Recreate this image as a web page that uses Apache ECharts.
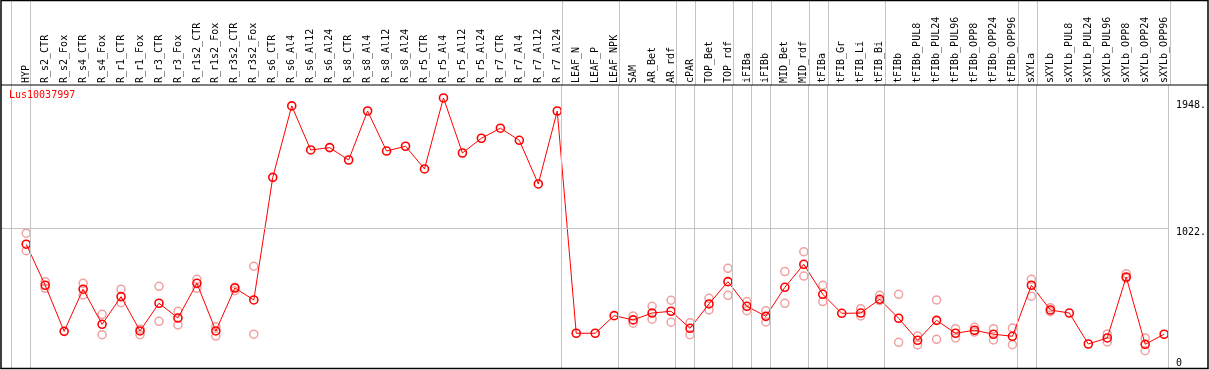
<!DOCTYPE html>
<html><head><meta charset="utf-8">
<script src="https://cdn.jsdelivr.net/npm/echarts@6/dist/echarts.min.js"></script>
<style>html,body{margin:0;padding:0;background:#fff}#c{width:1209px;height:370px}</style>
</head><body><div id="c"></div>
<script>
const categories = ["HYP","R_s2_CTR","R_s2_Fox","R_s4_CTR","R_s4_Fox","R_r1_CTR","R_r1_Fox","R_r3_CTR","R_r3_Fox","R_r1s2_CTR","R_r1s2_Fox","R_r3s2_CTR","R_r3s2_Fox","R_s6_CTR","R_s6_Al4","R_s6_Al12","R_s6_Al24","R_s8_CTR","R_s8_Al4","R_s8_Al12","R_s8_Al24","R_r5_CTR","R_r5_Al4","R_r5_Al12","R_r5_Al24","R_r7_CTR","R_r7_Al4","R_r7_Al12","R_r7_Al24","LEAF_N","LEAF_P","LEAF_NPK","SAM","AR_Bet","AR_rdf","cPAR","TOP_Bet","TOP_rdf","iFIBa","iFIBb","MID_Bet","MID_rdf","tFIBa","tFIB_Gr","tFIB_Li","tFIB_Bi","tFIBb","tFIBb_PUL8","tFIBb_PUL24","tFIBb_PUL96","tFIBb_OPP8","tFIBb_OPP24","tFIBb_OPP96","sXYLa","sXYLb","sXYLb_PUL8","sXYLb_PUL24","sXYLb_PUL96","sXYLb_OPP8","sXYLb_OPP24","sXYLb_OPP96"];
const means = [903,605,270,576,321,522,273,474,367,619,273,585,498,
1389,1908,1588,1605,1515,1871,1580,1615,1450,1966,1566,1673,1746,1658,1341,1871,
256,256,384,353,403,416,292,469,631,452,379,590,757,539,401,403,503,365,
205,350,256,278,249,234,605,425,403,178,222,665,176,249];
const rep1 = [983,631,null,619,394,576,285,597,416,648,304,590,743,
null,null,null,null,null,null,null,null,null,null,null,null,null,null,null,null,
null,null,null,382,452,496,333,510,728,486,420,704,849,605,null,435,532,539,
236,498,289,299,289,294,648,442,null,null,251,689,222,null];
const rep2 = [856,583,null,534,246,478,246,343,316,583,236,565,249,
null,null,null,null,null,null,null,null,null,null,null,null,null,null,null,null,
null,null,null,329,358,336,246,425,532,420,338,474,672,486,null,382,493,190,
171,212,222,265,207,173,525,413,null,null,193,656,129,null];
const yLabels = [1948, 1022];
const gridLineValue = 1022;
const groupEnds = [-1,0,28,31,34,35,37,38,39,41,42,45,52,53,60];
const title = "Lus10037997";

const FONT = "DejaVu Sans Mono";
const XMIN = -1.33, XMAX = 60.25, YMAX = 2060;
const sepOffset = 0.23;
const sepData = groupEnds.map(i => ({xAxis: i + sepOffset}));
const grey = '#c4c4c4';

const repData = [];
categories.forEach((c, i) => {
  if (rep1[i] != null) repData.push([i, rep1[i]]);
  if (rep2[i] != null) repData.push([i, rep2[i]]);
});

const chart = echarts.init(document.getElementById('c'), null, {renderer: 'canvas'});
chart.setOption({
  animation: false,
  backgroundColor: '#fff',
  title: {text: title, left: 9, top: 90, padding: 0,
    textStyle: {color: '#ff0000', fontSize: 10, fontFamily: FONT, fontWeight: 'normal'}},
  grid: [
    {left: 1, width: 1170, top: 85, height: 283.5},
    {left: 1, width: 1170, top: 0, height: 85}
  ],
  xAxis: [
    {type: 'value', gridIndex: 0, position: 'top', min: XMIN, max: XMAX,
      axisLine: {show: true, lineStyle: {color: '#000', width: 1}},
      axisTick: {show: false}, splitLine: {show: false},
      axisLabel: {customValues: categories.map((c, i) => i), rotate: 90, margin: 2,
        padding: [0, 0, 4, 0],
        formatter: v => categories[Math.round(v)] || '',
        color: '#000', fontSize: 10, fontFamily: FONT}},
    {type: 'value', gridIndex: 1, min: XMIN, max: XMAX, show: false}
  ],
  yAxis: [
    {type: 'value', gridIndex: 0, position: 'right', min: 0, max: YMAX,
      axisLine: {show: false}, axisTick: {show: false}, splitLine: {show: false},
      axisLabel: {customValues: yLabels, formatter: v => v + '.', verticalAlign: 'top',
        margin: 7, color: '#000', fontSize: 10, fontFamily: FONT}},
    {type: 'value', gridIndex: 0, position: 'right', min: 0, max: YMAX,
      axisLine: {show: false}, axisTick: {show: false}, splitLine: {show: false},
      axisLabel: {customValues: [0], formatter: v => String(v), verticalAlign: 'bottom',
        margin: 7, color: '#000', fontSize: 10, fontFamily: FONT}},
    {type: 'value', gridIndex: 1, min: 0, max: 1, show: false}
  ],
  series: [
    {type: 'line', xAxisIndex: 1, yAxisIndex: 2, data: [], z: 1,
      markLine: {silent: true, symbol: 'none', label: {show: false},
        lineStyle: {color: grey, width: 1, type: 'solid'}, data: sepData}},
    {type: 'line', xAxisIndex: 0, yAxisIndex: 0, data: [], z: 1,
      markLine: {silent: true, symbol: 'none', label: {show: false},
        lineStyle: {color: grey, width: 1, type: 'solid'},
        data: sepData.concat([{yAxis: gridLineValue}])}},
    {type: 'scatter', xAxisIndex: 0, yAxisIndex: 0, data: repData, z: 3,
      symbol: 'circle', symbolSize: 8,
      itemStyle: {color: 'rgba(255,255,255,0)', borderColor: '#f0a0a0', borderWidth: 1.5, opacity: 1}},
    {type: 'line', xAxisIndex: 0, yAxisIndex: 0, data: means.map((v, i) => [i, v]), z: 4,
      symbol: 'circle', symbolSize: 8, showAllSymbol: true,
      lineStyle: {color: '#ff0000', width: 1},
      itemStyle: {color: 'rgba(255,255,255,0)', borderColor: '#ff0000', borderWidth: 1.6}}
  ],
  graphic: [
    {type: 'rect', shape: {x: 1, y: 0.5, width: 1207, height: 368}, silent: true, z: 100,
      style: {fill: null, stroke: '#000', lineWidth: 1.5}},
    {type: 'line', shape: {x1: 1, y1: 85, x2: 1208, y2: 85}, silent: true, z: 100,
      style: {stroke: '#000', lineWidth: 1}}
  ]
});
</script></body></html>
